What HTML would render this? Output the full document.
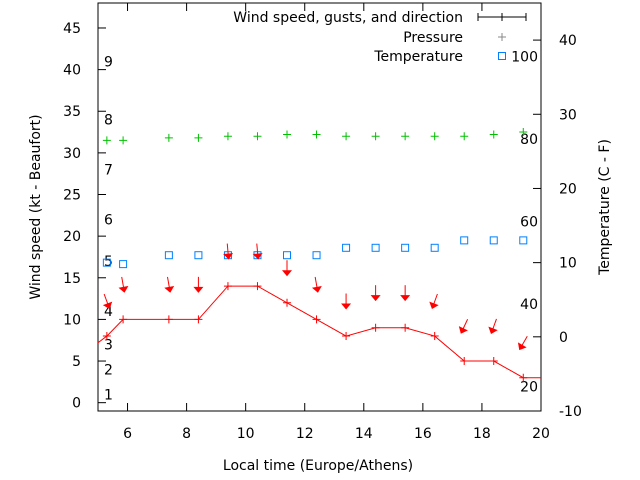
<!DOCTYPE html>
<html><head><meta charset="utf-8"><style>
body{margin:0;background:#fff;}
svg{display:block;font-family:"DejaVu Sans","Liberation Sans",sans-serif;}
</style></head><body>
<svg id="c" width="640" height="480" viewBox="0 0 640 480"></svg>
<script>
const times=[5.3,5.85,7.4,8.4,9.4,10.4,11.4,12.4,13.4,14.4,15.4,16.4,17.4,18.4,19.4];
const wind=[8,10,10,10,14,14,12,10,8,9,9,8,5,5,3];
const windDir=[340,350,350,0,355,355,0,350,0,0,0,20,25,20,30];
const pressure=[31.5,31.5,31.8,31.8,32,32,32.2,32.2,32,32,32,32,32,32.2,32.5];
const temperature=[10,9.8,11,11,11,11,11,11,12,12,12,12,13,13,13];
const xTicks=[6,8,10,12,14,16,18,20];
const yTicks=[0,5,10,15,20,25,30,35,40,45];
const y2Ticks=[-10,0,10,20,30,40];
const beaufort=[1,4,7,11,17,22,28,34,41];
const fahrenheit=[20,40,60,80,100];

const L=98,R=541,T=3,B=411;
const X=v=>L+(v-5)*(R-L)/15;
const Y=v=>B-(v+1)*(B-T)/49;
const Y2=v=>B-(v+10)*(B-T)/55;
const NS='http://www.w3.org/2000/svg';
const svg=document.getElementById('c');
function mk(tag,attrs,parent){const e=document.createElementNS(NS,tag);for(const k in attrs)e.setAttribute(k,attrs[k]);(parent||svg).appendChild(e);return e;}
function txt(s,x,y,anchor,parent){const t=mk('text',{x:x,y:y,'text-anchor':anchor||'start','font-size':14,fill:'#000'},parent);t.textContent=s;return t;}

mk('rect',{x:L,y:T,width:R-L,height:B-T,fill:'none',stroke:'#000','stroke-width':1});

const gx=mk('g',{});


xTicks.forEach(v=>{mk('line',{x1:X(v),x2:X(v),y1:B,y2:B-8,stroke:'#000'},gx);mk('line',{x1:X(v),x2:X(v),y1:T,y2:T+8,stroke:'#000'},gx);txt(String(v),X(v),438,'middle',gx);});
const gy=mk('g',{});


yTicks.forEach(v=>{mk('line',{x1:L,x2:L+8,y1:Y(v),y2:Y(v),stroke:'#000'},gy);txt(String(v),81,Y(v)+5,'end',gy);});
const gy2=mk('g',{});


y2Ticks.forEach(v=>{mk('line',{x1:R,x2:R-8,y1:Y2(v),y2:Y2(v),stroke:'#000'},gy2);txt(String(v),559,Y2(v)+5,'start',gy2);});

const gb=mk('g',{});


beaufort.forEach((v,i)=>txt(String(i+1),104,Y(v)+5,'start',gb));
const gf=mk('g',{});


fahrenheit.forEach(f=>txt(String(f),538,Y2((f-32)*5/9)+5,'end',gf));

const gt=mk('g',{});


times.forEach((t,i)=>{const r=mk('rect',{x:X(t)-3.5,y:Y2(temperature[i])-3.5,width:7,height:7,fill:'none',stroke:'#0080ff','stroke-width':1},gt);});
const gp=mk('g',{});


times.forEach((t,i)=>{const x=X(t),y=Y(pressure[i]);const p=mk('path',{d:`M${x-4},${y}H${x+4}M${x},${y-4}V${y+4}`,stroke:'#00c000','stroke-width':1},gp);});
const gw=mk('g',{});


let d='M'+L+','+Y(wind[0]-0.8);
times.forEach((t,i)=>{d+='L'+X(t)+','+Y(wind[i]);});
d+='L'+R+','+Y(wind[wind.length-1]);
const wl=mk('path',{d:d,fill:'none',stroke:'#f00','stroke-width':1},gw);


times.forEach((t,i)=>{const x=X(t),y=Y(wind[i]);const p=mk('path',{d:`M${x-4},${y}H${x+4}M${x},${y-4}V${y+4}`,stroke:'#f00','stroke-width':1},gw);});
times.forEach((t,i)=>{
  const cx=X(t),cy=(Y(wind[i]+5)+Y(wind[i]+3.3))/2;
  const a=mk('g',{transform:`translate(${cx},${cy}) rotate(${windDir[i]})`},gw);
  
  
  mk('line',{x1:0,y1:-8,x2:0,y2:4,stroke:'#f00','stroke-width':1},a);
  mk('path',{d:'M-5,2L5,2L0,8Z',fill:'#f00'},a);
});

const lg=mk('g',{});


txt('Wind speed, gusts, and direction',463,22,'end',lg);
mk('path',{d:'M478,17H526M478,13V21M526,13V21M502,13V21',stroke:'#000','stroke-width':1},lg);
txt('Pressure',463,42,'end',lg);
mk('path',{d:'M498,37H506M502,33V41',stroke:'#888','stroke-width':1},lg);
txt('Temperature',463,61,'end',lg);
mk('rect',{x:498.5,y:52.5,width:7,height:7,fill:'none',stroke:'#0080ff'},lg);

const xl=txt('Local time (Europe/Athens)',318,470,'middle');

const yl=txt('Wind speed (kt - Beaufort)',0,0,'middle');
yl.setAttribute('transform','translate(40,207) rotate(-90)');

const yr=txt('Temperature (C - F)',0,0,'middle');
yr.setAttribute('transform','translate(609,207) rotate(-90)');

</script>
</body></html>
